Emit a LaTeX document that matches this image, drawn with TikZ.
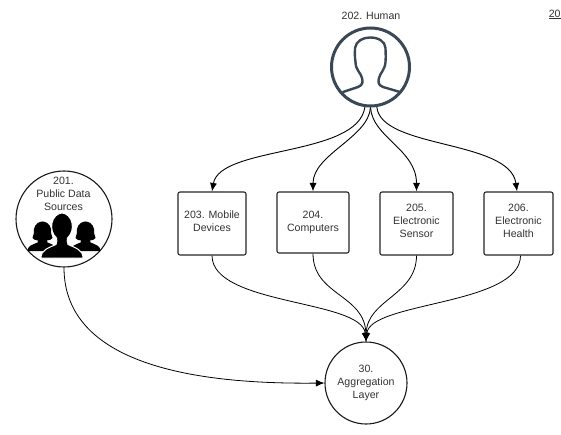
\documentclass[tikz,border=0pt]{standalone}
\usepackage{fontspec}
\setmainfont{Liberation Sans}
\usetikzlibrary{arrows.meta}
\definecolor{txt}{HTML}{333333}
\definecolor{hum}{HTML}{3A4856}
\tikzset{
  x=1pt,y=-1pt,
  lbl/.style={font=\fontsize{10.6}{13}\selectfont,text=txt,align=center,inner sep=0pt},
  boxn/.style={draw=black!85,line width=1.1pt,rounded corners=2pt,fill=white,inner sep=0pt},
  circn/.style={draw=black!90,line width=1.1pt,circle,fill=white,inner sep=0pt,align=center},
  conn/.style={draw=black,line width=0.9pt,-{Latex[length=8.5pt,width=7pt]}},
  connb/.style={draw=black,line width=0.8pt,-{Latex[length=8.5pt,width=7pt]}},
}
\newcommand{\crowdwoman}[1]{%
  \fill[black,shift={(#1,0)}] (-15,251) .. controls (-15,246) and (-10,244.5) .. (-5,242.5)
    -- (-4.5,240.5) .. controls (-7,240.5) and (-9,239.5) .. (-10,238)
    .. controls (-8,235) and (-9,232) .. (-8.5,229) .. controls (-7.5,224) and (-3.5,221.5) .. (0,221.5)
    .. controls (3.5,221.5) and (7.5,224) .. (8.5,229) .. controls (9,232) and (8,235) .. (10,238)
    .. controls (9,239.5) and (7,240.5) .. (4.5,240.5) -- (5,242.5)
    .. controls (10,244.5) and (15,246) .. (15,251) -- cycle;}
\begin{document}
\begin{tikzpicture}
\useasboundingbox (0,0) rectangle (561,435);
\fill[white] (0,0) rectangle (561,435);

% nodes
\node[circn,minimum size=96pt] (pub) at (64,219) {};
\node[circn,minimum size=82pt] (agg) at (366,383) {};
\node[draw=hum,line width=3pt,circle,minimum size=78pt,inner sep=0pt] (hum) at (370.5,67) {};
\node[boxn,minimum width=68pt,minimum height=63pt] (b3) at (212,223.5) {};
\node[boxn,minimum width=72pt,minimum height=61pt] (b4) at (313,222.5) {};
\node[boxn,minimum width=73pt,minimum height=63pt] (b5) at (416.5,223.5) {};
\node[boxn,minimum width=69pt,minimum height=63pt] (b6) at (518.5,223.5) {};

% labels
\node[lbl] (t3) at (212,221.5) {203. Mobile\\Devices};
\node[lbl] (t4) at (313,222.5) {204.\\Computers};
\node[lbl] (t5) at (416.5,221) {205.\\Electronic\\Sensor};
\node[lbl] (t6) at (518.5,221) {206.\\Electronic\\Health};
\node[lbl] (l202) at (371,15.5) {202. Human};
\node[lbl] (l201) at (63.5,194) {201.\\Public Data\\Sources};
\node[lbl] (l30) at (366,383) {30.\\Aggregation\\Layer};
\node[lbl,anchor=east] (l20) at (560.8,14.5) {\underline{20}};

% human icon
\draw[hum,line width=2.4pt,line join=round,line cap=round]
  (343,92) -- (358,87) .. controls (363,85) and (363,82) .. (362,78)
  .. controls (361,73) and (355.5,70) .. (355.5,62) .. controls (354.5,56) and (355,52) .. (355,48)
  .. controls (356,41) and (363,37.5) .. (370,37.5) .. controls (378,37.5) and (385,41) .. (385.5,48)
  .. controls (385.5,52) and (386,56) .. (385.5,62) .. controls (385,70) and (380,73) .. (379,78)
  .. controls (378,82) and (378,85) .. (383,87) -- (400,92);

% crowd icon
\crowdwoman{42.5}
\crowdwoman{85.5}
\draw[white,line width=1pt,fill=black]
  (41,258) .. controls (41,250) and (48,248) .. (56,244.5)
  .. controls (57,242) and (57,240) .. (56.5,238)
  .. controls (52,234) and (51,228) .. (52,223) .. controls (53,217) and (58,213) .. (62,213)
  .. controls (66,213) and (71,217) .. (72,223) .. controls (73,228) and (72,234) .. (67.5,238)
  .. controls (67,240) and (67,242) .. (68,244.5)
  .. controls (76,248) and (83,250) .. (83,258) -- cycle;

% connectors
\draw[conn] (hum.-98) .. controls +(-7,50) and +(8,-46) .. (b3.north);
\draw[conn] (hum.-90) .. controls +(-2,30) and +(0,-37) .. (b4.north);
\draw[conn] (hum.-90) .. controls +(2,30) and +(0,-42) .. (b5.north);
\draw[conn] (hum.-81) .. controls +(4,42) and +(-7,-52) .. ([xshift=-1.5pt]b6.north);
\draw[connb] (b3.south) .. controls +(0,50) and +(-4,-42) .. (agg.north);
\draw[connb] (b4.south) .. controls +(0,42) and +(-1,-47) .. (agg.north);
\draw[connb] (b5.south) .. controls +(0,40) and +(1,-42) .. (agg.north);
\draw[connb] ([xshift=2pt]b6.south) .. controls +(0,50) and +(4,-40) .. (agg.north);
\draw[connb] (pub.south) .. controls +(0,78) and +(-175,2) .. (agg.west);
\end{tikzpicture}
\end{document}
